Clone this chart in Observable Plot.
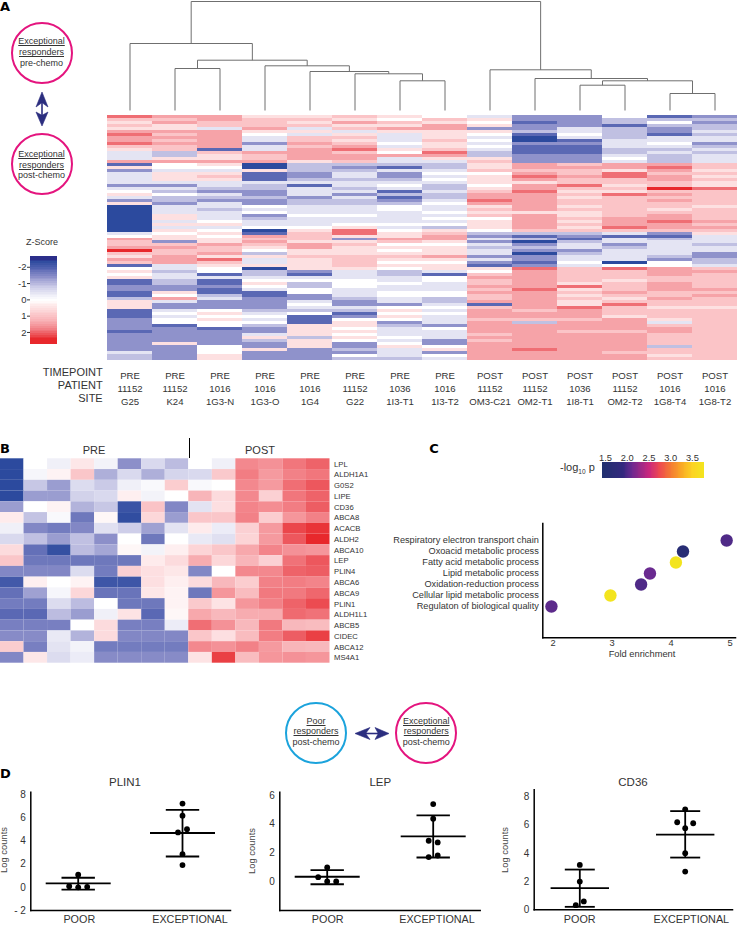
<!DOCTYPE html>
<html><head><meta charset="utf-8">
<script src="https://cdn.jsdelivr.net/npm/d3@7"></script>
<script src="https://cdn.jsdelivr.net/npm/@observablehq/plot@0.6"></script>
<style>
html,body{margin:0;padding:0;background:#fff;}
body{position:relative;width:737px;height:925px;overflow:hidden;font-family:"Liberation Sans",Arial,sans-serif;color:#333;}
.t{position:absolute;white-space:nowrap;line-height:1;}
.c{position:absolute;box-sizing:border-box;border-radius:50%;width:62px;height:62px;border-style:solid;border-width:2.7px;}
svg.p{position:absolute;overflow:visible;background:none;max-width:none;}
</style></head><body>
<script>
// ---------- Panel A data ----------
const timepoints=["PRE","PRE","PRE","PRE","PRE","PRE","PRE","PRE","POST","POST","POST","POST","POST","POST"];
const patients=["11152","11152","1016","1016","1016","11152","1036","1016","11152","11152","1036","11152","1016","1016"];
const sites=["G25","K24","1G3-N","1G3-O","1G4","G22","1I3-T1","1I3-T2","OM3-C21","OM2-T1","1I8-T1","OM2-T2","1G8-T4","1G8-T2"];
// z-score, in half-unit steps, one array per column, top to bottom
const colG25=[4,2,1,2,1,3,4,3,3,4,2,1,-1,-1,-1,3,-4,1,-3,-1,-1,-1,-1,-3,-1,0,1,-1,-3,1,-5,-5,-5,-5,-5,-5,-5,-5,-5,-1,0,3,2,2,3,5,2,1,3,2,-4,0,1,0,1,-4,-4,-3,-3,-4,-4,-2,1,1,1,-4,-4,-4,-3,-3,-3,-3,-4,-3,-3,-3,-3,-3,-3,-1,-2,-2];
const colK24=[3,2,3,1,1,3,2,3,2,3,2,2,-2,-2,1,3,0,0,-1,1,1,1,-1,-3,-1,-2,0,-2,-2,-3,-1,-1,-1,1,1,-1,1,-1,1,0,1,1,-3,2,3,2,2,3,3,3,-1,-1,-2,-1,-1,-2,-2,-3,-3,1,0,3,-1,-3,-3,-1,0,-1,0,0,-4,-3,-3,-3,-3,-3,1,-3,-3,-3,-3,-3];
const col1G3N=[3,3,2,2,-1,3,3,3,3,3,3,-4,2,1,1,3,1,0,-1,1,2,1,-1,-1,-2,-3,-1,-2,-3,-1,-1,-2,-1,-1,-1,0,1,-1,0,1,0,1,1,3,2,2,3,1,4,2,1,0,0,-4,-1,-4,-4,-3,-4,-4,-2,-1,-3,-3,-3,0,1,0,1,0,0,-4,-3,-3,-3,-3,-3,0,0,0,1,1];
const col1G3O=[1,2,2,2,3,1,0,-1,-1,-3,-1,-1,3,2,2,3,-5,-5,1,-4,-4,-4,-1,-2,-2,-3,-3,-2,-3,-3,0,-1,0,-3,-2,-1,-1,0,-5,-4,3,2,3,2,1,0,-2,1,-1,-1,1,-5,-2,-2,-1,0,1,0,-1,-4,-4,-3,-3,-3,-3,-2,-1,0,-1,0,-2,-3,-3,-1,1,-2,-3,-3,1,-3,-3,-3];
const col1G4=[1,2,1,2,-1,1,-1,2,2,3,2,3,3,3,3,1,-2,-2,-2,-3,-3,-2,-1,-4,-1,-1,-1,-3,-2,-2,-1,-1,-1,0,-1,-1,-1,0,1,2,2,2,1,3,3,1,1,2,1,1,1,1,-3,-4,-1,0,-2,-2,0,0,-3,-3,-1,0,-1,-2,0,-4,-4,-4,1,1,1,1,-2,1,1,1,-3,-3,-3,-3];
const colG22=[2,1,3,1,2,-1,1,2,1,2,3,4,2,3,3,2,-2,-3,-2,-1,-1,-2,-1,-1,-2,-1,-3,-1,-2,-2,-1,-1,-1,0,-1,-1,0,1,4,4,1,-3,1,2,1,1,1,2,2,2,2,1,-1,-1,-1,0,0,0,-1,-1,-1,-2,-3,-3,-1,-2,-4,-3,0,1,1,0,1,0,1,0,-3,-3,-2,-3,0,-2];
const col1I3T1=[1,0,2,1,3,1,-1,-1,-1,0,-1,1,0,3,-1,-1,-2,-4,-1,-3,-3,-2,-1,0,-1,-4,-2,-4,-3,-2,0,0,-1,-1,-1,-1,0,-1,0,1,1,3,2,0,1,0,1,2,1,0,1,0,-2,-2,-1,-1,0,-1,-1,0,0,-1,-1,-3,0,1,0,1,0,-3,-2,-1,-1,-1,0,-1,0,1,-1,-1,-1,-2];
const col1I3T2=[0,2,1,3,3,1,1,1,2,1,1,2,4,3,1,-1,-2,-2,-1,0,-1,0,-1,-2,-2,-1,-2,-2,-1,0,-1,-1,0,-1,0,-1,0,-2,1,2,3,3,1,0,1,1,1,3,1,0,1,1,-1,-4,0,0,-1,-1,-1,0,0,-2,-2,-1,0,-1,0,-1,-1,-1,-3,0,-1,-1,-1,-3,-3,0,1,-3,0,-1];
const colOM3C21=[-1,1,0,1,-3,1,0,-1,0,-1,0,-1,-2,-2,1,2,1,1,2,0,1,1,1,0,1,2,3,3,4,3,1,2,1,2,0,1,1,1,0,-2,-3,-1,-3,-1,-2,-1,-1,-3,-1,-3,-4,1,0,2,3,2,2,3,2,3,2,2,3,-4,2,3,3,3,2,3,3,3,3,2,3,2,3,3,3,3,3,3];
const colOM2T1=[-3,-3,-4,-3,-3,-2,-4,-5,-5,-3,-4,-4,-4,-3,-3,-3,3,3,2,3,4,3,1,3,3,4,3,3,3,3,3,3,1,3,3,3,3,3,2,-2,-4,-2,-5,-3,-2,-3,-5,-3,-3,-4,-3,4,3,3,3,3,3,3,4,3,3,3,3,3,3,2,3,3,2,-2,3,3,3,3,3,3,3,3,4,3,3,3];
const col1I8T1=[-3,-3,-3,-3,-1,-1,0,-1,-4,-3,-4,-4,-4,-3,-3,-3,2,3,2,2,3,2,2,4,2,1,2,1,2,2,1,2,1,1,2,1,2,1,2,-2,-3,-4,-2,-1,-1,-3,-2,-1,-1,0,-1,2,2,2,2,2,1,4,1,2,1,2,1,1,4,3,3,3,2,3,3,3,2,3,3,3,3,3,3,3,3,3];
const colOM2T2=[0,-2,-2,-4,-2,-2,-2,-2,-1,-1,-1,-2,-2,-1,0,-1,3,3,1,4,4,2,2,1,2,1,4,2,2,2,2,2,2,2,3,3,3,4,2,-1,-4,-1,-1,-3,-2,-1,-1,-1,-1,-5,0,4,2,2,2,1,2,2,2,3,2,1,2,4,2,2,2,1,3,3,3,3,2,3,3,3,3,3,3,2,3,3];
const col1G8T4=[-4,-2,0,-2,-3,-3,-4,-1,-1,0,-1,-2,-1,-2,-2,-2,3,4,3,2,3,3,2,2,5,2,3,2,3,2,2,1,2,3,3,4,3,3,2,-3,-4,-2,-1,-1,-1,-1,-1,-2,-3,0,0,3,3,3,2,2,3,3,3,2,2,3,2,2,1,2,2,2,1,-1,2,3,3,2,2,2,2,-2,2,2,1,2];
const col1G8T2=[-3,-2,-3,-2,-2,-1,-2,-1,-1,-3,-2,-1,-2,-1,-1,-1,2,2,1,2,1,2,1,1,4,2,2,2,2,2,1,2,2,2,2,3,2,3,2,1,-1,-1,-1,-2,-1,-1,-3,-3,-2,-2,-1,2,3,2,2,2,2,2,3,2,3,2,2,2,1,2,2,2,2,2,2,2,2,2,2,2,2,2,2,2,2,2];
const columnsA=[colG25,colK24,col1G3N,col1G3O,col1G4,colG22,col1I3T1,col1I3T2,colOM3C21,colOM2T1,col1I8T1,colOM2T2,col1G8T4,col1G8T2];
// dendrogram: merges of leaves 0..13 and earlier merges (14, 15, ...) at a height
const mergeA=[1,6,5,4,3,14,0,10,12,21,9,8,20];
const mergeB=[2,7,15,16,17,18,19,11,13,22,23,24,25];
const mergeH=[42,29.7,36.7,39,44.7,50.3,67,25.3,17,29.7,32,40.7,109];
// ---------- Panel B data ----------
const genes=["LPL","ALDH1A1","G0S2","LIPE","CD36","ABCA8","ACACB","ALDH2","ABCA10","LEP","PLIN4","ABCA6","ABCA9","PLIN1","ALDH1L1","ABCB5","CIDEC","ABCA12","MS4A1"];
const rowLPL=[-5,0,-.5,.6,-.4,-3,-1.2,-2,0,-.5,3,2.8,3.5,4];
const rowALDH1A1=[-5,-.3,.3,1.5,-2.3,-1.2,-2.3,-1.3,-1.2,1.4,3.3,2.6,3.2,3.5];
const rowG0S2=[-5,-1.7,-2.7,-1.1,-1.6,-.5,-.2,1.3,-.2,0,3,2.6,3.7,4.2];
const rowLIPE=[-5,-2.7,-2.7,-1.4,-1.2,.4,-.4,0,2,.9,3,1.2,3.5,4];
const rowCD36=[-2.7,0,.3,-2.2,-1.7,-4.7,1.6,-3.2,-.9,.8,3.1,2.9,3.3,4.1];
const rowABCA8=[.5,-1.8,-.2,-3.6,.2,-4.9,1,-2.7,1.5,1.5,3.2,1.3,2.7,3.2];
const rowACACB=[-.5,-3.2,-3.5,-3.2,-1,-1.5,-2.6,-.9,.5,-.6,1.2,2.6,4.5,4.8];
const rowALDH2=[-1.2,-1.9,-2.7,-1.9,-3,0,-3.6,0,-.7,-1,1.1,2.6,4.2,5];
const rowABCA10=[.9,-3.8,-4.8,-2,-2.5,.2,-.4,.4,1.1,1.5,2.3,3.1,2.8,2.7];
const rowLEP=[1.5,-3.6,-3.6,-3.6,-3.6,-3.6,.5,.9,2.2,1,2,1.2,3.6,4.2];
const rowPLIN4=[-3.2,-3.2,-3.2,-1.1,-3.5,1.2,.8,.6,-3.2,0,3,3,4,4.1];
const rowABCA6=[-4.5,.4,0,.3,-4.6,-4.6,.8,.4,.9,1.9,1.3,3.2,3.3,3.1];
const rowABCA9=[-3.8,-2.6,-.3,1,-3.7,-3.7,.6,.3,-3.6,2.7,1.8,3.4,3.4,3.9];
const rowPLIN1=[-3.5,-3.5,-1.1,-2,0,-3.6,-3.6,.3,1.4,.7,2.7,3.2,4,4.4];
const rowALDH1L1=[-4,-4,-2,-2.7,-.5,.7,-4,.2,2.3,1.9,2.2,2.2,3.8,3.6];
const rowABCB5=[-3.4,-3.4,-3.4,0,.9,-3.4,-3.4,-.6,3.7,2.8,1.9,3.4,1.9,1.8];
const rowCIDEC=[-3.1,-3.1,-.7,-2.2,.9,-3.2,-3.2,-3.2,1.5,.8,1.8,3.3,4.1,4.6];
const rowABCA12=[1.3,-3.4,-.9,-.4,-3.5,-3.5,-3.5,-3.5,3,2.8,3.2,2.6,2,1.9];
const rowMS4A1=[-3.2,.6,-1.1,-.6,-3.1,-3.1,-3.1,-3.1,.7,4.6,1.8,2.7,2.8,2.7];
const rowsB=[rowLPL,rowALDH1A1,rowG0S2,rowLIPE,rowCD36,rowABCA8,rowACACB,rowALDH2,rowABCA10,rowLEP,rowPLIN4,rowABCA6,rowABCA9,rowPLIN1,rowALDH1L1,rowABCB5,rowCIDEC,rowABCA12,rowMS4A1];
// ---------- Panel C data ----------
const processes=["Respiratory electron transport chain","Oxoacid metabolic process","Fatty acid metabolic process","Lipid metabolic process","Oxidation-reduction process","Cellular lipid metabolic process","Regulaton of biological quality"];
const foldEnrichment=[4.94,4.2,4.08,3.64,3.49,2.97,1.97];
const logP=[2.0,1.6,3.75,2.1,2.0,3.75,2.05];
// ---------- Panel D data ----------
const groups=["POOR","EXCEPTIONAL"];
const plin1Off=[[0,-9,0,9],[0,0,-4.5,4.5,0,0]], plin1Val=[[1.1,.1,0,.05],[7.25,6.2,4.75,5.03,2.87,1.93]], plin1Stat=[[.35,.83,-.2],[4.7,6.7,2.67]];
const lepOff=[[0,-9,0,9],[0,0,-4.5,4.5,-4.5,4.5]], lepVal=[[.98,.3,0,0],[5.39,4.37,2.84,2.72,1.7,1.81]], lepStat=[[.33,.79,-.19],[3.14,4.6,1.67]];
const cd36Off=[[0,0,4,-4],[0,-8,8,0,0,0]], cd36Val=[[3.18,2,.59,.33],[7.12,6.2,6.13,5.78,4.01,2.71]], cd36Stat=[[1.53,2.85,.21],[5.33,6.99,3.7]];

// ---------- shared ----------
const SANS='"Liberation Sans",Arial,sans-serif';
const heatColorA={type:"linear",clamp:true,
  domain:[-5.3,-5,-4,-3,-2,-1,0,1,2,3,4,5],
  range:["#2b2e8a","#2c4a9e","#5a68b4","#8f92cb","#c0c0e2","#e4e4f3","#ffffff","#fde0e1","#fbc4c7","#f6a3a8","#ef6e74","#e8282c"]};
const heatColorB={type:"linear",clamp:true,
  domain:[-5,-4,-3,-2,-1,0,1,2,3,4,5],
  range:["#2c4a9e","#5a68b4","#8c8fc9","#bcbce0","#e0e0f1","#ffffff","#fcd7d9","#f8b5b9","#f3888e","#ee6369","#e8282c"]};
const enrichColor={type:"linear",clamp:true,
  domain:[1.43,1.9,2.1,2.5,2.75,3,3.25,3.5,3.78],
  range:["#20306f","#33297e","#6a2a90","#c9277e","#ee4a4f","#f47a33","#f9a825","#fcd322","#f2e61e"]};
function place(plot,left,top){
  plot.classList.add("p");
  plot.style.left=left+"px";plot.style.top=top+"px";
  document.body.appendChild(plot);
}
const base=(o)=>Object.assign({style:{background:"none",fontFamily:SANS,color:"#333",overflow:"visible"}},o);
function text(x,y,s,{anchor="start",size=9,weight="normal",family=SANS,color="#333",rotate=0,html=false}={}){
  const d=document.createElement("div");d.className="t";
  if(html)d.innerHTML=s;else d.textContent=s;
  d.style.left=x+"px";d.style.top=(y-.846*size)+"px";d.style.fontSize=size+"px";d.style.fontWeight=weight;d.style.fontFamily=family;d.style.color=color;
  const tx=anchor==="middle"?"-50%":anchor==="end"?"-100%":"0";
  d.style.transform=`translateX(${tx})`+(rotate?` rotate(${rotate}deg)`:"");
  d.style.transformOrigin="50% 85%";
  document.body.appendChild(d);return d;
}
function letter(x,y,s){text(x,y,s,{size:13,weight:"bold",family:'"DejaVu Sans",sans-serif',color:"#000"});}
function badge(cx,cy,color,l1,l2,l3,y1,y2,y3){
  const c=document.createElement("div");c.className="c";c.style.left=(cx-31)+"px";c.style.top=(cy-31)+"px";c.style.borderColor=color;document.body.appendChild(c);
  text(cx,y1,l1,{anchor:"middle"}).style.textDecoration="underline";
  text(cx,y2,l2,{anchor:"middle"}).style.textDecoration="underline";
  text(cx,y3,l3,{anchor:"middle"});
}
function arrowPath(d,left,top,w,h){
  const ns="http://www.w3.org/2000/svg";const s=document.createElementNS(ns,"svg");
  s.setAttribute("width",w);s.setAttribute("height",h);s.style.cssText=`position:absolute;left:${left}px;top:${top}px;`;
  const p=document.createElementNS(ns,"path");p.setAttribute("d",d);p.setAttribute("fill","#2b2e7f");p.setAttribute("stroke","#2b2e7f");p.setAttribute("stroke-width",".6");s.appendChild(p);
  document.body.appendChild(s);
}

// ---------- Panel A: dendrogram ----------
const nodes=d3.range(14).map(i=>({x:i+.5,h:0}));
const links=[];
mergeA.forEach((a,i)=>{
  const b=mergeB[i],h=mergeH[i],A=nodes[a],B=nodes[b];
  links.push({x1:A.x,x2:A.x,y1:A.h,y2:h},{x1:B.x,x2:B.x,y1:B.h,y2:h},{x1:A.x,x2:B.x,y1:h,y2:h});
  nodes.push({x:(A.x+B.x)/2,h});
});
place(Plot.plot(base({width:737,height:112,marginLeft:107,marginRight:0,marginTop:1,marginBottom:2,
  x:{domain:[0,14],axis:null},y:{domain:[0,109],axis:null},
  marks:[Plot.link(links,{x1:"x1",x2:"x2",y1:"y1",y2:"y2",stroke:"#6f6f6f",strokeWidth:1})]})),0,0);

// ---------- Panel A: heat map with three-line column labels ----------
const cellsA=columnsA.flatMap((col,c)=>col.map((v,r)=>({c,r,v})));
place(Plot.plot(base({width:737,height:298,marginLeft:107,marginRight:0,marginTop:3,marginBottom:50,
  x:{type:"band",domain:d3.range(14),padding:0,round:false},
  y:{type:"band",domain:d3.range(82),padding:0,round:false,axis:null},
  color:heatColorA,
  marks:[
    Plot.cell(cellsA,{x:"c",y:"r",fill:"v",shapeRendering:"crispEdges"}),
    Plot.axisX({anchor:"bottom",tickSize:0,tickPadding:9,fontSize:9.6,lineHeight:1.36,label:null,fill:"#333",
      tickFormat:i=>`${timepoints[i]}\n${patients[i]}\n${sites[i]}`})
  ]})),0,112);
[["TIMEPOINT",376.7],["PATIENT",389.3],["SITE",402.3]].forEach(([s,y])=>text(102.7,y,s,{anchor:"end",size:11}));

// Z-score legend
const stripes=d3.range(-2.66,2.72,.11).map(z=>({z,z2:z+.11}));
place(Plot.plot(base({width:57,height:100,marginLeft:30,marginRight:0,marginTop:6,marginBottom:6.3,
  y:{domain:[-2.66,2.72],range:[6,93.7]},color:heatColorA,
  marks:[
    Plot.rect(stripes,{y1:"z",y2:"z2",fill:d=>d.z*2.1,shapeRendering:"crispEdges"}),
    Plot.axisY({ticks:[-2,-1,0,1,2],tickFormat:d=>String(d),tickSize:3,tickPadding:1,fontSize:9.5,label:null})
  ]})),0,250);
text(42,246,"Z-Score",{anchor:"middle",size:9});

// Badges and arrows, panel A
badge(41.5,53,"#e4147e","Exceptional","responders","pre-chemo",45,56,66.7);
badge(41.5,163.5,"#e4147e","Exceptional","responders","post-chemo",157.3,168.3,179);
arrowPath("M7 0 L13 15 L7.5 11 L7.5 23 L13 20 L7 34 L1 20 L6.5 23 L6.5 11 L1 15 Z",34.5,92,14,35);
letter(0,11,"A");

// ---------- Panel B ----------
const cellsB=rowsB.flatMap((row,r)=>row.map((v,c)=>({c,g:genes[r],v})));
place(Plot.plot(base({width:400,height:212,marginLeft:0,marginRight:70.5,marginTop:3.3,marginBottom:4.3,
  x:{type:"band",domain:d3.range(14),padding:0,round:false,axis:null},
  y:{type:"band",domain:genes,padding:0,round:false},
  color:heatColorB,
  marks:[
    Plot.cell(cellsB,{x:"c",y:"g",fill:"v"}),
    Plot.axisY({anchor:"right",tickSize:0,tickPadding:4,fontSize:7.7,label:null})
  ]})),0,455);
letter(0,453.3,"B");
text(94,454,"PRE",{anchor:"middle",size:11});
text(260,454,"POST",{anchor:"middle",size:11});
place(Plot.plot(base({width:4,height:20,margin:0,x:{domain:[0,1],axis:null},y:{domain:[0,1],axis:null},
  marks:[Plot.ruleX([.5],{stroke:"#000",strokeWidth:1})]})),186.5,438);

// ---------- Panel C ----------
letter(429.3,453,"C");
const enrichStops=d3.range(1.43,3.78,.02).map(v=>({v,v2:v+.021}));
place(Plot.plot(base({width:120,height:30,marginLeft:10,marginRight:8,marginTop:14,marginBottom:0,
  x:{domain:[1.43,3.78]},color:enrichColor,
  marks:[
    Plot.rect(enrichStops,{x1:"v",x2:"v2",fill:"v",shapeRendering:"crispEdges"}),
    Plot.axisX({anchor:"top",ticks:[1.5,2,2.5,3,3.5],tickFormat:".1f",tickSize:0,tickPadding:2,fontSize:9.3,label:null})
  ]})),591.7,448.3);
text(560,471.7,'-log<sub style="font-size:6.5px;line-height:0">10</sub> p',{size:11,html:true});
const enrich=processes.map((p,i)=>({p,f:foldEnrichment[i],v:logP[i]}));
place(Plot.plot(base({width:367,height:140,marginLeft:172.3,marginRight:2,marginTop:3,marginBottom:22.7,
  x:{domain:[2,5],range:[182.7,359.7]},
  y:{type:"point",domain:processes,range:[11,94.3]},
  color:enrichColor,
  marks:[
    Plot.frame({anchor:"left",stroke:"#000",strokeWidth:1.5}),
    Plot.frame({anchor:"bottom",stroke:"#000",strokeWidth:1.5}),
    Plot.axisY({tickSize:0,tickPadding:4,fontSize:9.2,label:null,lineWidth:Infinity}),
    Plot.axisX({ticks:[2,3,4,5],tickFormat:d=>String(d),tickSize:0,tickPadding:2,fontSize:9.3,label:null}),
    Plot.dot(enrich,{x:"f",y:"p",r:6.2,fill:"v"})
  ]})),370,520);
text(642,657.7,"Fold enrichment",{anchor:"middle",size:9.3});

// ---------- Middle badges ----------
badge(316,733.3,"#1ba3dc","Poor ","responders","post-chemo",724.3,735,745.7);
badge(426.3,733.3,"#e4147e","Exceptional","responders","post-chemo",724.3,735,745.7);
arrowPath("M0 6.5 L15 0.5 L11 6 L23 6 L20 0.5 L34 6.5 L20 12.5 L23 7 L11 7 L15 12.5 Z",355,726.8,35,13);

// ---------- Panel D ----------
letter(0,778,"D");
function scatter({left,width,top,height,axisX,bottomPx,topPx,rightPx,cx0,cx1,domain,ticks,off,val,stat,fmt,barHalf,capHalf}){
  const pxPerGroup=cx1-cx0;
  const pts=val.flatMap((vs,g)=>vs.map((y,i)=>({x:g+off[g][i]/pxPerGroup,y})));
  const means=stat.map((s,g)=>({x1:g-barHalf/pxPerGroup,x2:g+barHalf/pxPerGroup,y:s[0]}));
  const caps=stat.flatMap((s,g)=>[s[1],s[2]].map(y=>({x1:g-capHalf/pxPerGroup,x2:g+capHalf/pxPerGroup,y})));
  const stems=stat.map((s,g)=>({x:g,y1:s[2],y2:s[1]}));
  return place(Plot.plot(base({width,height,marginLeft:axisX-left,marginRight:left+width-rightPx,marginTop:topPx-top,marginBottom:top+height-bottomPx,
    x:{domain:[0,1],range:[cx0-left,cx1-left],axis:null},
    y:{domain,range:[bottomPx-top,topPx-top]},
    marks:[
      Plot.frame({anchor:"left",stroke:"#000",strokeWidth:1.5}),
      Plot.frame({anchor:"bottom",stroke:"#000",strokeWidth:1.5}),
      Plot.axisY({ticks,tickFormat:fmt,tickSize:0,tickPadding:5,fontSize:10,label:null}),
      Plot.link(means,{x1:"x1",x2:"x2",y1:"y",y2:"y",stroke:"#000",strokeWidth:1.8}),
      Plot.link(caps,{x1:"x1",x2:"x2",y1:"y",y2:"y",stroke:"#000",strokeWidth:1.8}),
      Plot.link(stems,{x1:"x",x2:"x",y1:"y1",y2:"y2",stroke:"#000",strokeWidth:1.8}),
      Plot.dot(pts,{x:"x",y:"y",r:2.9,fill:"#000"})
    ]})),left,top);
}
const negFmt=d=>d<0?"- 2":String(d);
scatter({left:0,width:240,top:785,height:130,axisX:30.3,bottomPx:910,topPx:791.7,rightPx:230,cx0:77.7,cx1:182,
  domain:[-2,8.23],ticks:[-2,0,2,4,6,8],off:plin1Off,val:plin1Val,stat:plin1Stat,fmt:negFmt,barHalf:32.5,capHalf:16.7});
scatter({left:245,width:240,top:785,height:130,axisX:279.3,bottomPx:910,topPx:791.7,rightPx:479.7,cx0:326.7,cx1:432.7,
  domain:[-2.02,6.22],ticks:[0,2,4,6],off:lepOff,val:lepVal,stat:lepStat,fmt:String,barHalf:32.5,capHalf:16.7});
scatter({left:495,width:242,top:785,height:130,axisX:533.7,bottomPx:909.3,topPx:789.3,rightPx:732,cx0:579.3,cx1:684.7,
  domain:[0,8.5],ticks:[0,2,4,6,8],off:cd36Off,val:cd36Val,stat:cd36Stat,fmt:String,barHalf:29.2,capHalf:15});
[["PLIN1",125],["LEP",380.3],["CD36",633]].forEach(([s,x])=>text(x,786.7,s,{anchor:"middle",size:11.5}));
[[7,847],[255,847.7],[508,846.7]].forEach(([x,y])=>text(x,y+3,"Log counts",{anchor:"middle",size:9.4,rotate:-90,color:"#444"}));
[[79.3,190],[327.7,437],[579.7,691.3]].forEach(([a,b])=>{
  text(a,923,groups[0],{anchor:"middle",size:10.8});
  text(b,923,groups[1],{anchor:"middle",size:10.8});
});
</script>
</body></html>
